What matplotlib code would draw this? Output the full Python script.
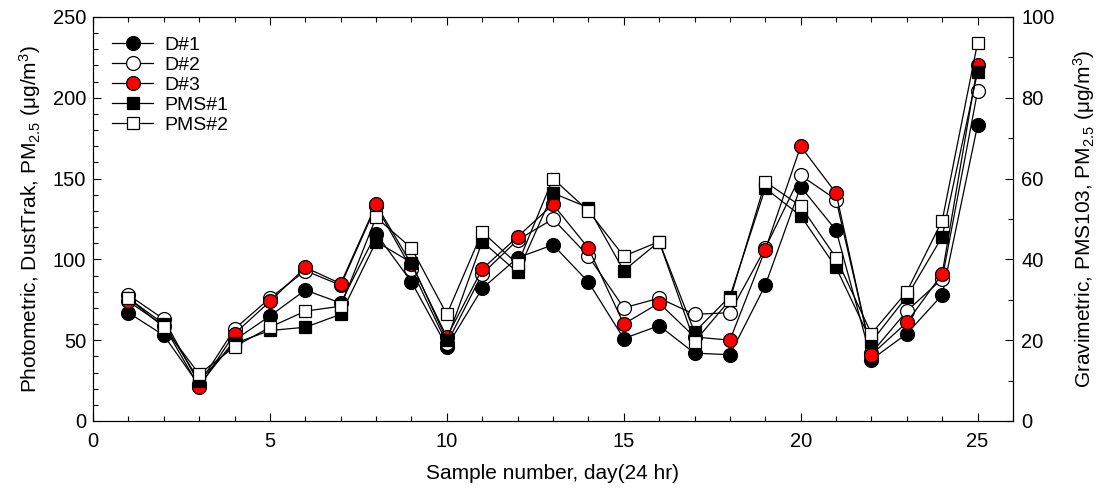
import numpy as np
import matplotlib
matplotlib.use("Agg")
import matplotlib.pyplot as plt
from matplotlib.ticker import MultipleLocator

plt.rcParams["font.family"] = ["Liberation Sans", "DejaVu Sans"]
plt.rcParams["mathtext.fontset"] = "custom"
plt.rcParams["mathtext.rm"] = "Liberation Sans"
plt.rcParams["mathtext.it"] = "Liberation Sans"

day = np.arange(1, 26)

# photometric (DustTrak), ug/m3 -- left axis
d1 = [67, 53, 22, 50, 65, 81, 73, 116, 86, 46, 82, 101, 109, 86, 51, 59, 42, 41, 84, 145, 118, 38, 54, 78, 183]
d2 = [78, 63, 23, 57, 76, 93, 84, 133, 94, 48, 91, 112, 125, 102, 70, 76, 66, 67, 107, 152, 137, 42, 68, 88, 204]
d3 = [74, 59, 21, 54, 74, 95, 85, 134, 97, 52, 94, 114, 134, 107, 60, 73, 52, 50, 106, 170, 141, 41, 61, 91, 220]

# gravimetric (PMS103), ug/m3 -- right axis
pms1 = [30.4, 24.0, 10.0, 19.2, 22.4, 23.2, 26.4, 44.4, 39.2, 20.0, 44.4, 36.8, 56.4,
        52.8, 37.2, 44.4, 22.0, 30.8, 57.6, 50.8, 38.0, 19.6, 30.8, 45.6, 86.4]
pms2 = [30.4, 23.2, 11.6, 18.4, 23.2, 27.2, 28.4, 50.4, 42.8, 26.4, 46.8, 38.8, 60.0,
        52.0, 40.8, 44.4, 19.6, 30.0, 59.2, 53.2, 40.4, 21.6, 32.0, 49.6, 93.6]

TICK_FS = 14.5
LABEL_FS = 15
LEG_FS = 14

fig = plt.figure(figsize=(11.05, 4.91), dpi=100)
ax = fig.add_axes([0.0842, 0.1426, 0.8325, 0.8228])
ax2 = ax.twinx()

kw = dict(color="black", lw=0.9, markeredgecolor="black", markeredgewidth=0.9)
h1, = ax.plot(day, d1, marker="o", ms=10, markerfacecolor="black", label="D#1", **kw)
h2, = ax.plot(day, d2, marker="o", ms=10, markerfacecolor="white", label="D#2", **kw)
h3, = ax.plot(day, d3, marker="o", ms=10, markerfacecolor="red", label="D#3", **kw)
h4, = ax2.plot(day, pms1, marker="s", ms=9, markerfacecolor="black", label="PMS#1", **kw)
h5, = ax2.plot(day, pms2, marker="s", ms=9, markerfacecolor="white", label="PMS#2", **kw)

ax.set_xlim(0, 26)
ax.set_ylim(0, 250)
ax2.set_ylim(0, 100)

ax.xaxis.set_major_locator(MultipleLocator(5))
ax.xaxis.set_minor_locator(MultipleLocator(1))
ax.yaxis.set_major_locator(MultipleLocator(50))
ax.yaxis.set_minor_locator(MultipleLocator(10))
ax2.yaxis.set_major_locator(MultipleLocator(20))
ax2.yaxis.set_minor_locator(MultipleLocator(10))

for a in (ax, ax2):
    a.tick_params(which="both", direction="in", labelsize=TICK_FS)
    a.tick_params(which="major", length=6, width=0.8)
    a.tick_params(which="minor", length=3.5, width=0.8)
ax.tick_params(which="both", top=True, right=False)
ax.tick_params(axis="x", pad=8)
ax.tick_params(axis="y", pad=5)
ax2.tick_params(axis="y", pad=6)

ax.set_xlabel("Sample number, day(24 hr)", fontsize=LABEL_FS, labelpad=9)
ax.set_ylabel(r"Photometric, DustTrak, PM$_{\mathregular{2.5}}$ (μg/m$^{\mathregular{3}}$)",
              fontsize=LABEL_FS, labelpad=7)
ax2.set_ylabel(r"Gravimetric, PMS103, PM$_{\mathregular{2.5}}$ (μg/m$^{\mathregular{3}}$)",
               fontsize=LABEL_FS, labelpad=12)

ax2.legend(handles=[h1, h2, h3, h4, h5], loc="upper left", frameon=False, fontsize=LEG_FS,
           handlelength=2.1, handletextpad=0.55, labelspacing=0.12,
           bbox_to_anchor=(0.0, 1.0), borderaxespad=0.6)

fig.savefig("out.png", dpi=100)
